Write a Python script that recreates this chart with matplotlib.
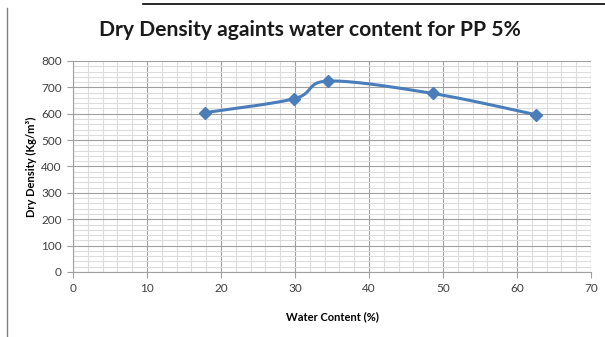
import numpy as np
import matplotlib.pyplot as plt
from matplotlib.lines import Line2D

# Compaction test results for PP 5%
water_content = [17.8, 29.9, 34.5, 48.6, 62.6]
dry_density = [604, 657, 724, 677, 596]

x_ticks = [0, 10, 20, 30, 40, 50, 60, 70]
y_ticks = [0, 100, 200, 300, 400, 500, 600, 700, 800]


def smooth_curve(x, y, n=40, tension=1 / 6):
    """Cubic Bezier smoothing through every point (spreadsheet-style)."""
    x = np.asarray(x, float)
    y = np.asarray(y, float)
    px, py = [], []
    for i in range(len(x) - 1):
        x0, y0 = (x[i - 1], y[i - 1]) if i > 0 else (x[i], y[i])
        x3, y3 = (x[i + 2], y[i + 2]) if i + 2 < len(x) else (x[i + 1], y[i + 1])
        c1x = x[i] + (x[i + 1] - x0) * tension
        c1y = y[i] + (y[i + 1] - y0) * tension
        c2x = x[i + 1] - (x3 - x[i]) * tension
        c2y = y[i + 1] - (y3 - y[i]) * tension
        t = np.linspace(0, 1, n)
        bx = ((1 - t) ** 3 * x[i] + 3 * (1 - t) ** 2 * t * c1x
              + 3 * (1 - t) * t ** 2 * c2x + t ** 3 * x[i + 1])
        by = ((1 - t) ** 3 * y[i] + 3 * (1 - t) ** 2 * t * c1y
              + 3 * (1 - t) * t ** 2 * c2y + t ** 3 * y[i + 1])
        px.extend(bx)
        py.extend(by)
    return np.array(px), np.array(py)


plt.rcParams['font.family'] = ['Lato', 'DejaVu Sans']

fig = plt.figure(figsize=(6.05, 3.37), dpi=100)
ax = fig.add_axes([0.1207, 0.1929, 0.9769 - 0.1207, 0.819 - 0.1929])

ax.set_xlim(0, 70)
ax.set_ylim(0, 800)
ax.set_xticks(x_ticks)
ax.set_yticks(y_ticks)
ax.set_xticks(np.arange(0, 71, 2), minor=True)
ax.set_yticks(np.arange(0, 801, 20), minor=True)

ax.grid(which='minor', color='#dcdcdc', linewidth=0.8)
ax.grid(which='major', color='#a0a0a0', linewidth=0.8)
ax.set_axisbelow(True)

for side in ('top', 'right'):
    ax.spines[side].set_visible(False)
for side in ('left', 'bottom'):
    ax.spines[side].set_color('#a0a0a0')
    ax.spines[side].set_linewidth(0.8)

ax.tick_params(which='major', length=4, color='#a0a0a0', labelsize=8.5,
               labelcolor='#404040', pad=4)
ax.tick_params(which='minor', length=0)

sx, sy = smooth_curve(water_content, dry_density)
ax.plot(sx, sy, color='#4A7EBB', linewidth=2.2, solid_capstyle='round', zorder=3)
ax.plot(water_content, dry_density, linestyle='none', marker='D', markersize=6,
        color='#4A7EBB', zorder=4)

ax.set_xlabel('Water Content (%)', fontsize=8, fontweight='bold', labelpad=12)
ax.set_ylabel('Dry Density (Kg/m³)', fontsize=8, fontweight='bold', labelpad=3)

fig.text(310 / 605, 1 - 30 / 337, 'Dry Density againts water content for PP 5%',
         ha='center', va='center', fontsize=15.2, fontweight='bold', color='#1a1a1a')

# Chart area border pieces
fig.add_artist(Line2D([7 / 605, 7 / 605], [0, 1 - 8 / 337],
                      transform=fig.transFigure, color='#7f7f7f', linewidth=1))
fig.add_artist(Line2D([143 / 605, 1], [1 - 4 / 337, 1 - 4 / 337],
                      transform=fig.transFigure, color='#000000', linewidth=1.2))

fig.savefig('out.png', dpi=100)
